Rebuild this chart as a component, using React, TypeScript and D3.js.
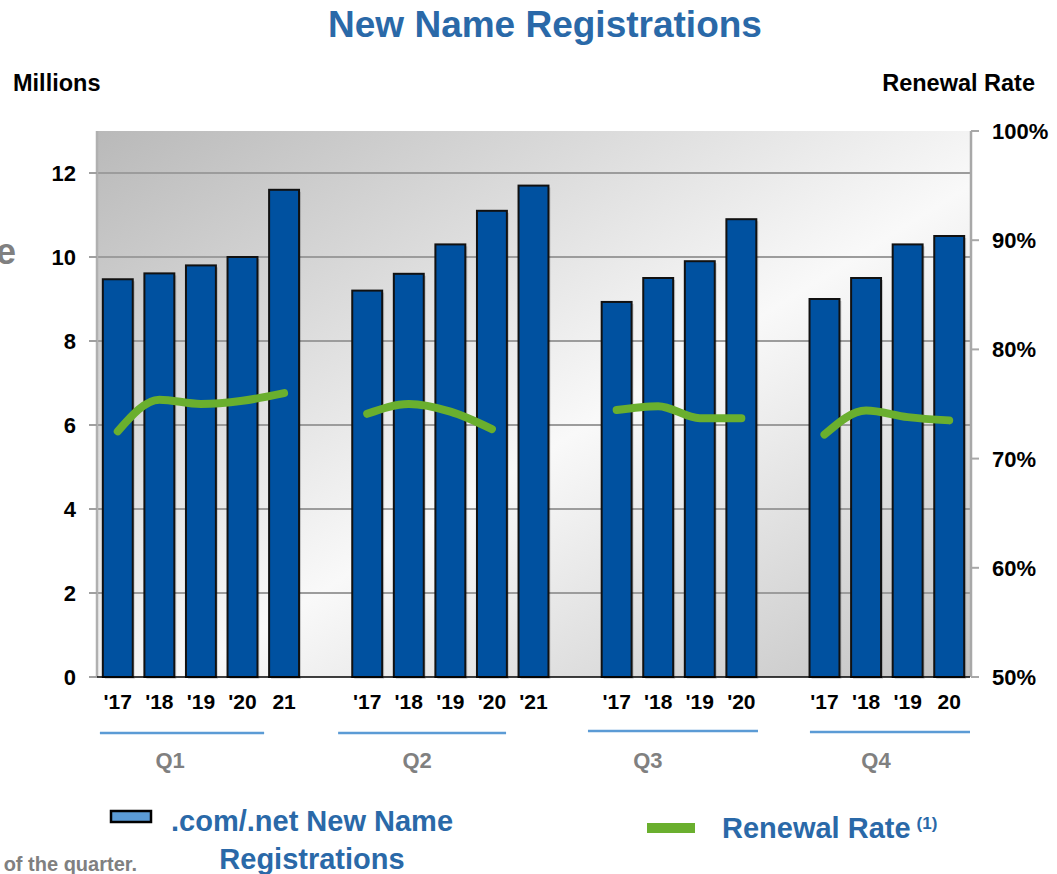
import React from "react";
import * as d3 from "d3";

const quarters = ["Q1", "Q2", "Q3", "Q4"];
const yearLabels = [
  ["'17", "'18", "'19", "'20", "21"],
  ["'17", "'18", "'19", "'20", "'21"],
  ["'17", "'18", "'19", "'20"],
  ["'17", "'18", "'19", "20"],
];
const registrations = [
  [9.47, 9.61, 9.8, 10.0, 11.6],
  [9.2, 9.6, 10.3, 11.1, 11.7],
  [8.93, 9.5, 9.9, 10.9],
  [9.0, 9.5, 10.3, 10.5],
];
const renewalRates = [
  [72.5, 75.4, 75.0, 75.3, 76.0],
  [74.1, 75.0, 74.3, 72.7],
  [74.45, 74.8, 73.7, 73.7],
  [72.2, 74.4, 73.8, 73.5],
];
const leftTicks = [0, 2, 4, 6, 8, 10, 12];
const rightTicks = [50, 60, 70, 80, 90, 100];

const W = 1057;
const H = 874;
const plot = { left: 97, right: 970, top: 131, bottom: 677 };
// underline extents and quarter-label positions in slot units
const underlineSlots = [
  [0.07, 4.02],
  [5.8, 9.84],
  [11.81, 15.9],
  [17.15, 21],
];
const underlineY = [733, 733, 731, 732];
const quarterLabelSlots = [1.76, 7.7, 13.25, 18.74];

const FONT = "'Liberation Sans', Arial, Helvetica, sans-serif";
const BLUE_TEXT = "#2a69a8";
const BAR = "#0051a0";
const GREEN = "#6aaf2e";

export default function App() {
  const slots: string[] = [];
  quarters.forEach((q, qi) => {
    yearLabels[qi].forEach((_, j) => slots.push(`${qi}-${j}`));
    if (qi < quarters.length - 1) slots.push(`gap-${qi}`);
  });
  const pad = 0.28;
  const x = d3
    .scaleBand<string>()
    .domain(slots)
    .range([plot.left, plot.right])
    .paddingInner(pad)
    .paddingOuter(pad / 2);
  const slotX = d3
    .scaleLinear()
    .domain([0, slots.length])
    .range([plot.left, plot.right]);
  const yL = d3.scaleLinear().domain([0, 13]).range([plot.bottom, plot.top]);
  const yR = d3.scaleLinear().domain([50, 100]).range([plot.bottom, plot.top]);
  const cx = (qi: number, j: number) => (x(`${qi}-${j}`) as number) + x.bandwidth() / 2;

  const line = d3
    .line<[number, number]>()
    .x((d) => d[0])
    .y((d) => d[1])
    .curve(d3.curveMonotoneX);

  return (
    <svg
      width={W}
      height={H}
      style={{ position: "absolute", left: 0, top: 0, background: "#fff" }}
      fontFamily={FONT}
    >
      <defs>
        <linearGradient id="bg" x1="0" y1="0" x2="1" y2="1">
          <stop offset="0" stopColor="#b9b9b9" />
          <stop offset="0.55" stopColor="#f9f9f9" />
          <stop offset="1" stopColor="#c2c2c2" />
        </linearGradient>
      </defs>

      {/* title */}
      <text x={545} y={37} textAnchor="middle" fontSize={37} fontWeight="bold" fill={BLUE_TEXT}>
        New Name Registrations
      </text>
      <text x={13} y={91} fontSize={23.5} fontWeight="bold" fill="#000">
        Millions
      </text>
      <text x={1035} y={91} textAnchor="end" fontSize={23.5} fontWeight="bold" fill="#000">
        Renewal Rate
      </text>
      <text x={16} y={264} textAnchor="end" fontSize={36} fontWeight="bold" fill="#808080">
        e
      </text>

      {/* plot background */}
      <rect
        x={plot.left}
        y={plot.top}
        width={plot.right - plot.left}
        height={plot.bottom - plot.top}
        fill="url(#bg)"
      />

      {/* gridlines */}
      {leftTicks
        .filter((t) => t > 0)
        .map((t) => (
          <line
            key={`g${t}`}
            x1={plot.left}
            x2={plot.right}
            y1={yL(t)}
            y2={yL(t)}
            stroke="#9c9c9c"
            strokeWidth={2}
          />
        ))}

      {/* left axis */}
      <line x1={plot.left} x2={plot.left} y1={plot.top} y2={plot.bottom} stroke="#b0b0b0" strokeWidth={2.5} />
      {leftTicks.map((t) => (
        <g key={`l${t}`}>
          <line x1={plot.left - 8} x2={plot.left} y1={yL(t)} y2={yL(t)} stroke="#a0a0a0" strokeWidth={2} />
          <text x={76} y={yL(t) + 8} textAnchor="end" fontSize={22} fontWeight="bold" fill="#000">
            {t}
          </text>
        </g>
      ))}

      {/* right axis */}
      <line x1={plot.right + 1} x2={plot.right + 1} y1={plot.top} y2={plot.bottom} stroke="#a8a8a8" strokeWidth={2.5} />
      {rightTicks.map((t) => (
        <g key={`r${t}`}>
          <line x1={plot.right + 1} x2={plot.right + 9} y1={yR(t)} y2={yR(t)} stroke="#a8a8a8" strokeWidth={2} />
          <text x={992} y={yR(t) + 8} fontSize={22} fontWeight="bold" fill="#000">
            {t}%
          </text>
        </g>
      ))}

      {/* bars */}
      {registrations.map((arr, qi) =>
        arr.map((v, j) => {
          const bx = x(`${qi}-${j}`) as number;
          return (
            <g key={`b${qi}-${j}`}>
              <rect
                x={bx + 2}
                y={yL(v) + 2}
                width={x.bandwidth()}
                height={plot.bottom - yL(v)}
                fill="#000"
                opacity={0.15}
              />
              <rect
                x={bx}
                y={yL(v)}
                width={x.bandwidth()}
                height={plot.bottom - yL(v)}
                fill={BAR}
                stroke="#111"
                strokeWidth={2}
              />
            </g>
          );
        })
      )}

      {/* x axis baseline */}
      <line x1={plot.left} x2={plot.right} y1={plot.bottom} y2={plot.bottom} stroke="#000" strokeWidth={1.5} />

      {/* renewal rate lines */}
      {renewalRates.map((arr, qi) => (
        <path
          key={`rr${qi}`}
          d={line(arr.map((v, j) => [cx(qi, j), yR(v)] as [number, number])) || ""}
          fill="none"
          stroke={GREEN}
          strokeWidth={8}
          strokeLinecap="round"
          strokeLinejoin="round"
        />
      ))}

      {/* x labels */}
      {yearLabels.map((arr, qi) =>
        arr.map((lab, j) => (
          <text
            key={`x${qi}-${j}`}
            x={cx(qi, j)}
            y={709}
            textAnchor="middle"
            fontSize={21}
            fontWeight="bold"
            fill="#000"
          >
            {lab}
          </text>
        ))
      )}

      {/* quarter underlines and labels */}
      {quarters.map((q, qi) => (
        <g key={q}>
          <line
            x1={slotX(underlineSlots[qi][0])}
            x2={slotX(underlineSlots[qi][1])}
            y1={underlineY[qi]}
            y2={underlineY[qi]}
            stroke="#5b9bd5"
            strokeWidth={2.5}
          />
          <text
            x={slotX(quarterLabelSlots[qi])}
            y={768}
            textAnchor="middle"
            fontSize={22}
            fontWeight="bold"
            fill="#808080"
          >
            {q}
          </text>
        </g>
      ))}

      {/* legend */}
      <rect x={111} y={811} width={40} height={11} fill="#5b9bd5" stroke="#000" strokeWidth={2.5} />
      <text x={312} y={831} textAnchor="middle" fontSize={29} fontWeight="bold" fill={BLUE_TEXT}>
        .com/.net New Name
      </text>
      <text x={312} y={869} textAnchor="middle" fontSize={29} fontWeight="bold" fill={BLUE_TEXT}>
        Registrations
      </text>
      <rect x={647} y={823} width={48} height={10} fill={GREEN} />
      <text x={722} y={838} fontSize={29} fontWeight="bold" fill={BLUE_TEXT}>
        Renewal Rate
        <tspan dx={6} dy={-9} fontSize={17}>
          (1)
        </tspan>
      </text>

      {/* footnote fragment */}
      <text x={137} y={871} textAnchor="end" fontSize={20} fontWeight="bold" fill="#808080">
        of the quarter.
      </text>
    </svg>
  );
}
